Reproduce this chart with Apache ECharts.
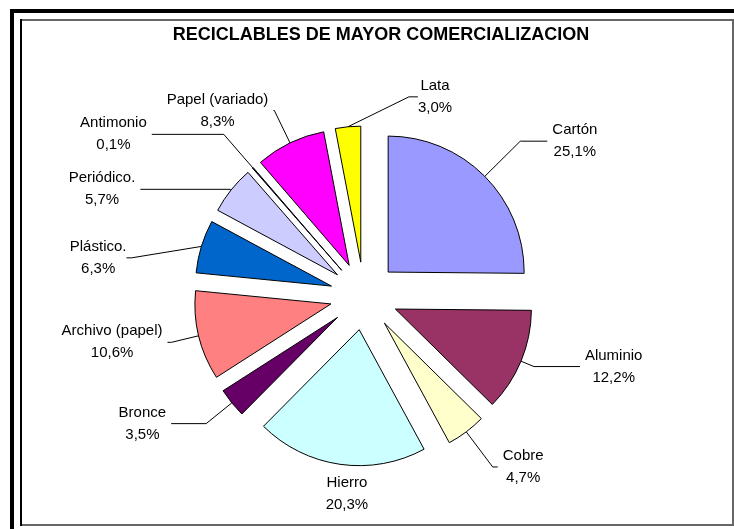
<!DOCTYPE html>
<html>
<head>
<meta charset="utf-8">
<script src="https://cdn.jsdelivr.net/npm/echarts@6/dist/echarts.min.js"></script>
<style>
  html, body { margin: 0; padding: 0; background: #fff; }
  #chart { width: 734px; height: 529px; }
</style>
</head>
<body>
<div id="chart"></div>
<script>
// datos (porcentajes)
const materiales = ['Cartón', 'Aluminio', 'Cobre', 'Hierro', 'Bronce', 'Archivo (papel)',
    'Plástico.', 'Periódico.', 'Antimonio', 'Papel (variado)', 'Lata'];
const porcentajes = [25.1, 12.2, 4.7, 20.3, 3.5, 10.6, 6.3, 5.7, 0.1, 8.3, 3.0];
const colores = ['#9999FF', '#993366', '#FFFFCC', '#CCFFFF', '#660066', '#FF8080',
    '#0066CC', '#CCCCFF', '#000080', '#FF00FF', '#FFFF00'];

// largo de las lineas guia [length, length2]
const guias = {
    'Cartón': [50, 27],
    'Aluminio': [14, 46],
    'Cobre': [44, 5],
    'Hierro': [20, 0],
    'Bronce': [33, 35],
    'Archivo (papel)': [28, 4],
    'Plástico.': [2, 5],
    'Periódico.': [1, 90],
    'Antimonio': [44, 72],
    'Papel (variado)': [36, 1],
    'Lata': [20, 9]
};
// corrimiento de etiquetas que excel acomodo a mano
const corrimiento = {
    'Hierro': [36, 10],
    'Lata': [120, -10],
    'Plástico.': [-63, 12]
};

const centro = [364, 296];
const radio = 136;
const separacion = 34;   // porciones separadas (explode)

const fuente = "'Liberation Sans', Arial, sans-serif";

const chart = echarts.init(document.getElementById('chart'), null, {renderer: 'canvas'});

const total = porcentajes.reduce((a, b) => a + b, 0);

// una serie por porcion, cada una corrida hacia afuera sobre su angulo medio
let acumulado = 0;
const series = materiales.map((m, i) => {
    const medio = (acumulado + porcentajes[i] / 2) / total * 2 * Math.PI;
    acumulado += porcentajes[i];
    const cx = centro[0] + separacion * Math.sin(medio);
    const cy = centro[1] - separacion * Math.cos(medio);
    return {
        type: 'pie',
        name: m,
        center: [cx, cy],
        radius: radio,
        startAngle: 90,
        clockwise: true,
        avoidLabelOverlap: false,
        minShowLabelAngle: 0,
        emphasis: {disabled: true},
        silent: true,
        label: {
            show: true,
            position: 'outside',
            distanceToLabelLine: 5,
            formatter: p => '{a|' + p.name + '}\n{a|' + p.value.toFixed(1).replace('.', ',') + '%}',
            rich: {
                a: {align: 'center', fontFamily: fuente, fontSize: 15, lineHeight: 22, color: '#000'}
            }
        },
        labelLine: {
            show: true,
            smooth: false,
            lineStyle: {color: '#000', width: 1}
        },
        labelLayout: function (params) {
            const c = corrimiento[materiales[params.dataIndex]];
            if (!c) return {};
            const r = params.labelRect;
            return {
                x: r.x + r.width / 2 + c[0],
                y: r.y + r.height / 2 + c[1],
                align: 'center',
                verticalAlign: 'middle'
            };
        },
        data: materiales.map((n, j) => j === i ? {
            name: n,
            value: porcentajes[j],
            itemStyle: {color: colores[j], borderColor: '#000', borderWidth: 1},
            labelLine: {show: n !== 'Hierro', length: guias[n][0], length2: guias[n][1]}
        } : {
            name: n,
            value: porcentajes[j],
            itemStyle: {color: 'transparent', borderWidth: 0},
            label: {show: false},
            labelLine: {show: false}
        })
    };
});

chart.setOption({
    backgroundColor: '#fff',
    animation: false,
    title: {
        text: 'RECICLABLES DE MAYOR COMERCIALIZACION',
        left: 376,
        top: 21,
        textAlign: 'center',
        textStyle: {
            fontFamily: fuente,
            fontSize: 18,
            fontWeight: 'bold',
            color: '#000'
        }
    },
    graphic: [
        {type: 'rect', shape: {x: 10, y: 9, width: 724, height: 4}, style: {fill: '#000'}},
        {type: 'rect', shape: {x: 10, y: 9, width: 4, height: 520}, style: {fill: '#000'}},
        {type: 'rect', shape: {x: 21, y: 20, width: 712, height: 505}, style: {fill: null, stroke: '#666', lineWidth: 2}},
        {type: 'line', shape: {x1: 21, y1: 19, x2: 21, y2: 526}, style: {stroke: '#000', lineWidth: 2}}
    ],
    series: series
});
</script>
</body>
</html>
